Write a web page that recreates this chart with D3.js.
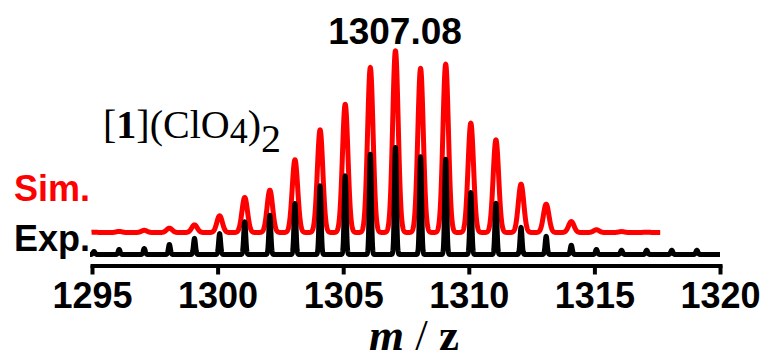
<!DOCTYPE html>
<html>
<head>
<meta charset="utf-8">
<script src="https://cdn.jsdelivr.net/npm/d3@7"></script>
<style>
  html, body { margin: 0; padding: 0; background: #fff; }
  svg { display: block; }
</style>
</head>
<body>
<svg id="chart" width="768" height="359"></svg>
<script>
// ---------- data ----------
const simMz  = [1295.08,1296.08,1297.08,1298.08,1299.08,1300.08,1301.08,1302.08,1303.08,1304.08,1305.08,1306.08,
                1307.08,1308.08,1309.08,1310.08,1311.08,1312.08,1313.08,1314.08,1315.08,1316.08,1317.08];
const simInt = [0.2,0.6,1.2,2.4,4.2,9.2,19.3,23.3,40,56.5,70.6,90.8,
                100,90.3,92.6,60.2,51,26.6,15.6,6,1.5,0.5,0.2];
const expMz  = [1295.08,1296.08,1297.08,1298.08,1299.08,1300.08,1301.08,1302.08,1303.08,1304.08,1305.08,1306.08,
                1307.08,1308.08,1309.08,1310.08,1311.08,1312.08,1313.08,1314.08,1315.08,1316.08,1317.08,1318.08,1319.08];
const expInt = [2.8,4.7,5.6,9.4,15,19.4,30.4,36.6,47.5,64.1,73.5,93.7,
                100,91.3,89,57.8,47.8,25.3,17,8.7,4.7,4,4,4,4];
const simRange = [1294.98, 1317.62];
const expRange = [1294.92, 1320.0];
const xTicks = [1295,1300,1305,1310,1315,1320];
const peakLabel = "1307.08";

// ---------- layout ----------
const svg = d3.select("#chart");
const x = d3.scaleLinear().domain([1295, 1320]).range([92, 720]);
const ySim = d3.scaleLinear().domain([0, 100]).range([232.5, 50.8]);
const yExp = d3.scaleLinear().domain([0, 100]).range([254.5, 147.5]);

// build profile curves from the peak lists (line shape = style)
function profile(mz, inten, range, sigma) {
  const pts = [];
  const step = 0.004;
  const xs = d3.range(range[0], range[1] + 1e-9, step).concat(mz);
  xs.sort((a, b) => a - b);
  xs.forEach(v => {
    let s = 0;
    for (let i = 0; i < mz.length; i++) {
      const d = (v - mz[i]) / sigma;
      if (Math.abs(d) < 8) s += inten[i] * Math.exp(-0.5 * d * d);
    }
    pts.push([v, s]);
  });
  return pts;
}

const simPts = profile(simMz, simInt, simRange, 0.11);
const expPts = profile(expMz, expInt, expRange, 0.04);

svg.append("path")
  .datum(simPts)
  .attr("fill", "none")
  .attr("stroke", "#ff0000")
  .attr("stroke-width", 5)
  .attr("stroke-linejoin", "round")
  .attr("d", d3.line().x(d => x(d[0])).y(d => ySim(d[1])));

svg.append("path")
  .datum(expPts)
  .attr("fill", "none")
  .attr("stroke", "#000")
  .attr("stroke-width", 5)
  .attr("stroke-linejoin", "round")
  .attr("d", d3.line().x(d => x(d[0])).y(d => yExp(d[1])));

// axis
const axis = d3.axisBottom(x).tickValues(xTicks).tickFormat(d3.format("d"))
  .tickSize(9).tickSizeOuter(0).tickPadding(8);
const gA = svg.append("g").attr("transform", "translate(0,265.5)").call(axis);
gA.select(".domain").attr("stroke", "#000").attr("stroke-width", 4).attr("stroke-linecap", "square");
gA.selectAll(".tick line").attr("stroke", "#000").attr("stroke-width", 4);
gA.selectAll(".tick text")
  .attr("fill", "#000")
  .style("font-family", "'Liberation Sans', Arial, sans-serif")
  .style("font-weight", "bold")
  .style("font-size", "36px");

// axis title
const t = svg.append("text")
  .attr("x", 414).attr("y", 350)
  .attr("text-anchor", "middle")
  .style("font-family", "'Liberation Serif', 'Times New Roman', serif")
  .style("font-size", "45px")
  .style("font-weight", "bold");
t.append("tspan").style("font-style", "italic").text("m");
t.append("tspan").style("font-weight", "normal").text(" / ");
t.append("tspan").text("z");

// peak label
svg.append("text")
  .attr("x", 395).attr("y", 43.5)
  .attr("text-anchor", "middle")
  .style("font-family", "'Liberation Sans', Arial, sans-serif")
  .style("font-weight", "bold")
  .style("font-size", "37px")
  .text(peakLabel);

// compound label
const c = svg.append("text")
  .attr("x", 103).attr("y", 138)
  .style("font-family", "'Liberation Serif', 'Times New Roman', serif")
  .style("font-size", "40px");
c.append("tspan").text("[");
c.append("tspan").style("font-weight", "bold").text("1");
c.append("tspan").text("](ClO");
c.append("tspan").attr("dy", 5).style("font-size", "36px").text("4");
c.append("tspan").attr("dy", -5).text(")");
c.append("tspan").attr("dy", 14).text("2");

// legend-like labels
svg.append("text")
  .attr("x", 14).attr("y", 201)
  .attr("fill", "#ff0000")
  .style("font-family", "'Liberation Sans', Arial, sans-serif")
  .style("font-weight", "bold")
  .style("font-size", "36px")
  .text("Sim.");
svg.append("text")
  .attr("x", 14).attr("y", 251)
  .attr("fill", "#000")
  .style("font-family", "'Liberation Sans', Arial, sans-serif")
  .style("font-weight", "bold")
  .style("font-size", "36px")
  .text("Exp.");
</script>
</body>
</html>
